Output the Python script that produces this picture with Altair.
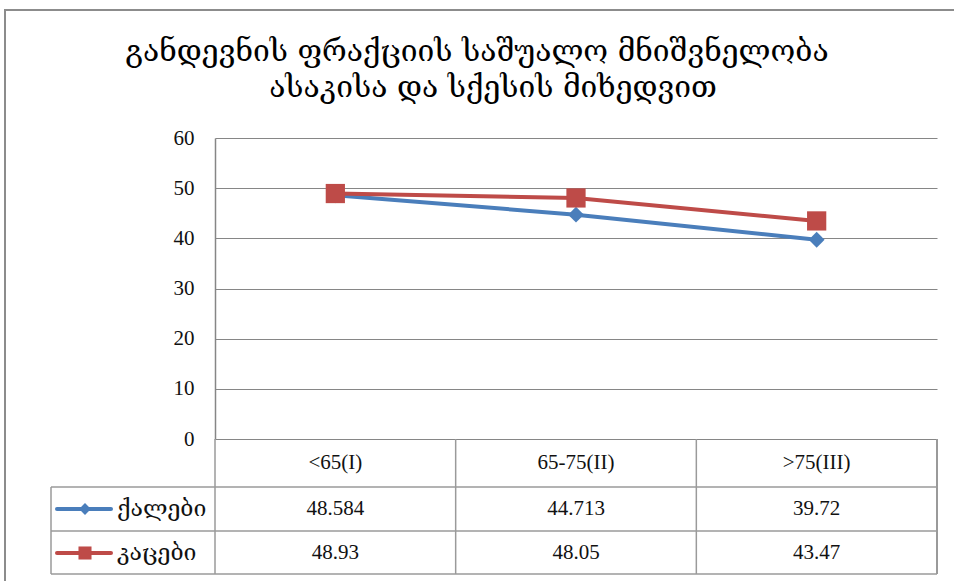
import altair as alt
import pandas as pd

# --- data -------------------------------------------------------------
categories = ["<65(I)", "65-75(II)", ">75(III)"]
series_names = ["ქალები", "კაცები"]
women = [48.584, 44.713, 39.72]
men = [48.93, 48.05, 43.47]
y_ticks = [0, 10, 20, 30, 40, 50, 60]
title_lines = ["განდევნის ფრაქციის საშუალო მნიშვნელობა", "ასაკისა და  სქესის მიხედვით"]

series_colors = ["#4A7EBB", "#BE4B48"]
series_shapes = ["diamond", "square"]

rows = []
for name, vals in zip(series_names, [women, men]):
    for cat, v in zip(categories, vals):
        rows.append({"category": cat, "series": name, "value": v, "label": str(v)})
df = pd.DataFrame(rows)
cat_df = pd.DataFrame({"category": categories})
one = pd.DataFrame({"k": [0]})

# --- layout constants (pixels, relative to the plot area) -------------
W, H = 722, 301
GRID = "#868686"
TABLE_LINE = "#9a9a9a"
SERIF = "Liberation Serif"
GEO = "DejaVu Serif"
HEADER_Y = 325
ROW_Y = [371, 415]
ROW_LINES = [349, 393, 436]
LEFT_COL = -164

x_scale = alt.Scale(type="band", domain=categories, paddingInner=0, paddingOuter=0)
y_scale = alt.Scale(domain=[0, 60], nice=False)
color_scale = alt.Scale(domain=series_names, range=series_colors)

X = alt.X("category:N", scale=x_scale, axis=None, sort=categories)

# outer frame
frame = alt.Chart(one).mark_rect(fillOpacity=0, stroke="#8c8c8c", strokeWidth=2).encode(
    x=alt.value(-210), x2=alt.value(760), y=alt.value(-128), y2=alt.value(470)
)

# title
title_layers = [
    alt.Chart(one).mark_text(font=GEO, fontSize=30, color="#000", align="center", baseline="middle").encode(
        x=alt.value(xp), y=alt.value(yp), text=alt.value(t)
    )
    for t, xp, yp in zip(title_lines, [262, 278], [-86, -50])
]

# lines and markers
base = alt.Chart(df).encode(
    x=X,
    y=alt.Y("value:Q", scale=y_scale,
            axis=alt.Axis(values=y_ticks, grid=True, gridColor=GRID, gridWidth=1,
                          domainColor=GRID, domainWidth=1.5, ticks=False,
                          labelFont=SERIF, labelFontSize=21, labelColor="#111",
                          labelPadding=21, title=None)),
    color=alt.Color("series:N", scale=color_scale, legend=None),
)
series_layers = []
for name, shape, size in zip(series_names, series_shapes, [250, 370]):
    sub = base.transform_filter(alt.datum.series == name)
    series_layers.append(sub.mark_line(strokeWidth=4))
    series_layers.append(sub.mark_point(shape=shape, filled=True, size=size, opacity=1))

# data table: header row
header = alt.Chart(cat_df).mark_text(font=SERIF, fontSize=21, color="#111", baseline="middle").encode(
    x=X, y=alt.value(HEADER_Y), text="category:N"
)

# data table: value rows and legend keys
table_layers = []
for name, color, shape, msize, ry in zip(series_names, series_colors, series_shapes, [140, 170], ROW_Y):
    sub = alt.Chart(df).transform_filter(alt.datum.series == name)
    table_layers.append(
        sub.mark_text(font=SERIF, fontSize=21, color="#111", baseline="middle").encode(
            x=X, y=alt.value(ry), text="label:N"
        )
    )
    table_layers.append(
        alt.Chart(one).mark_rule(color=color, strokeWidth=4, strokeCap="round").encode(
            x=alt.value(-158), x2=alt.value(-104), y=alt.value(ry)
        )
    )
    table_layers.append(
        alt.Chart(one).mark_point(shape=shape, filled=True, size=msize, color=color, opacity=1).encode(
            x=alt.value(-130), y=alt.value(ry)
        )
    )
    table_layers.append(
        alt.Chart(one).mark_text(font=GEO, fontSize=23, color="#111", align="left", baseline="middle").encode(
            x=alt.value(-98), y=alt.value(ry), text=alt.value(name)
        )
    )

# table grid
h_lines = [
    alt.Chart(one).mark_rule(color=TABLE_LINE, strokeWidth=1.5).encode(
        x=alt.value(LEFT_COL), x2=alt.value(W), y=alt.value(yy)
    )
    for yy in ROW_LINES
]
v_edges = alt.Chart(cat_df).mark_rule(color=TABLE_LINE, strokeWidth=1.5).encode(
    x=alt.X("category:N", scale=x_scale, axis=None, sort=categories, bandPosition=0),
    y=alt.value(H), y2=alt.value(ROW_LINES[-1])
)
v_right = alt.Chart(one).mark_rule(color=TABLE_LINE, strokeWidth=2).encode(
    x=alt.value(W), y=alt.value(H), y2=alt.value(ROW_LINES[-1])
)
v_left = alt.Chart(one).mark_rule(color=TABLE_LINE, strokeWidth=1.5).encode(
    x=alt.value(LEFT_COL), y=alt.value(ROW_LINES[0]), y2=alt.value(ROW_LINES[-1])
)

chart = alt.layer(
    frame, *title_layers, *h_lines, v_edges, v_right, v_left,
    *series_layers, header, *table_layers
).properties(
    width=W, height=H,
    autosize=alt.AutoSizeParams(type="none"),
    padding={"left": 215, "top": 138, "right": 17, "bottom": 142},
).configure_view(strokeWidth=0, stroke="transparent")

chart.save("out.html", embed_options={"renderer": "svg", "actions": False})
